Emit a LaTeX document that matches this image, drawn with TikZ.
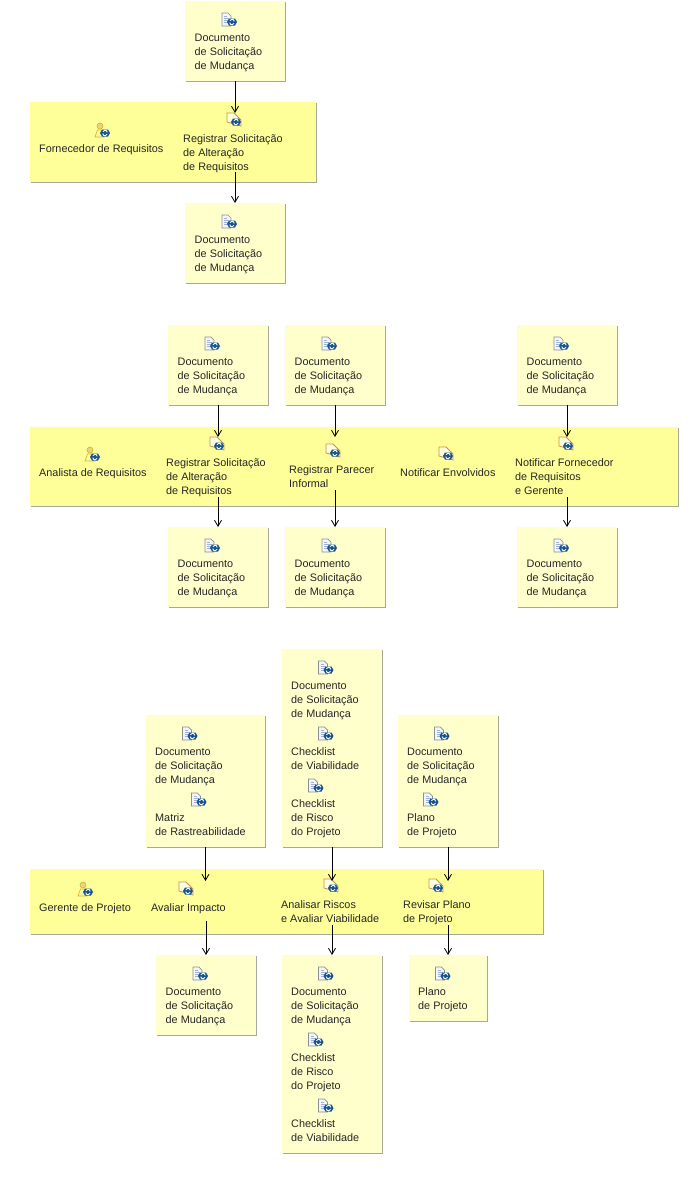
\documentclass[tikz,border=0pt]{standalone}
\usepackage{fontspec}
\usepackage{xcolor}
\setmainfont{Liberation Sans}
\usetikzlibrary{arrows.meta}

\definecolor{docyellow}{HTML}{FFFFCC}
\definecolor{laneyellow}{HTML}{FFFF99}
\definecolor{boxshade}{HTML}{A8A89A}
\definecolor{syncblue}{HTML}{16548E}
\definecolor{taskedge}{HTML}{C89050}
\definecolor{pageedge}{HTML}{8A8F98}
\definecolor{pageline}{HTML}{9DB4D8}

\tikzset{
  docbox/.style={anchor=north west, inner sep=0pt, outer sep=0pt, fill=docyellow,
    preaction={fill=boxshade, transform canvas={shift={(1pt,-1pt)}}}},
  lanebox/.style={docbox, fill=laneyellow},
  lbl/.style={anchor=west, inner sep=0pt, yshift=-1.6pt, align=left, text=black!85,
    font=\fontsize{10.85}{14}\selectfont},
  flow/.style={->, >={Straight Barb[length=6pt,width=7pt]}, black, line width=0.8pt},
  syncmark/.pic={
    \fill[syncblue] (-5,0) -- (-3,-3.5) -- (3,-3.5) -- (5,0) -- (3,3.5) -- (-3,3.5) -- cycle;
    \draw[white, line width=0.9pt] (-2.2,0.6) arc (180:20:2.2);
    \draw[white, line width=0.9pt] (2.2,-0.6) arc (0:-160:2.2);
  },
  docicon/.pic={
    \draw[pageedge, fill=gray!8, line width=0.7pt] (-8,-6) -- (-2,-6) -- (1,-3) -- (1,7) -- (-8,7) -- cycle;
    \draw[pageline, line width=0.6pt] (-6,-3) -- (-3,-3) (-6,-1) -- (-1,-1) (-6,1) -- (-2,1) (-6,3) -- (-3,3);
    \pic at (2,3) {syncmark};
  },
  taskicon/.pic={
    \draw[taskedge, fill=docyellow!60!white, line width=0.8pt] (-8,-7) -- (-1,-7) -- (6,0) -- (6,6) -- (-8,2) -- cycle;
    \pic at (1,2) {syncmark};
  },
  roleicon/.pic={
    \draw[brown!60!yellow, fill=yellow!40!brown!60, line width=0.6pt] (-2,-4) circle (3);
    \draw[brown!60!yellow, fill=yellow!35!white, line width=0.6pt] (-7,7) -- (-4.5,0) -- (0,0) -- (2,7) -- cycle;
    \pic at (3,3) {syncmark};
  },
}

\newcommand{\docname}{Documento\\de Solicitação\\de Mudança}

\begin{document}
\begin{tikzpicture}[x=1pt, y=-1pt]
  \useasboundingbox (0,0) rectangle (699,1195);

  % swimlanes
  \node[lanebox, minimum width=286, minimum height=80] (laneA) at (30,102) {};
  \node[lanebox, minimum width=648, minimum height=79] (laneB) at (30,427) {};
  \node[lanebox, minimum width=513, minimum height=65] (laneC) at (30,869) {};

  % single document boxes
  \foreach \nm/\x/\y in {docA/185/1, docB/185/203,
      docC/168/325, docD/285/325, docE/517/325,
      docF/168/527, docG/285/527, docH/517/527,
      docI/156/955} {
    \node[docbox, minimum width=100, minimum height=80] (\nm) at (\x,\y) {};
    \pic at (\x+45,\y+18) {docicon};
    \node[lbl] (\nm text) at (\x+9.5,\y+50) {\docname};
  }

  % boxes with several documents
  \node[docbox, minimum width=119, minimum height=132] (docJ) at (146,715) {};
  \pic at (190.5,733) {docicon};
  \node[lbl] (docJ one) at (155,765) {\docname};
  \pic at (199.5,799) {docicon};
  \node[lbl] (docJ two) at (155,823) {Matriz\\de Rastreabilidade};

  \node[docbox, minimum width=100, minimum height=198] (docK) at (282,649) {};
  \pic at (326.5,667) {docicon};
  \node[lbl] (docK one) at (291,699) {\docname};
  \pic at (326.5,733) {docicon};
  \node[lbl] (docK two) at (291,757) {Checklist\\de Viabilidade};
  \pic at (316.5,785) {docicon};
  \node[lbl] (docK three) at (291,817) {Checklist\\de Risco\\do Projeto};

  \node[docbox, minimum width=100, minimum height=132] (docL) at (398,715) {};
  \pic at (442.5,733) {docicon};
  \node[lbl] (docL one) at (407,765) {\docname};
  \pic at (431.5,799) {docicon};
  \node[lbl] (docL two) at (407,824) {Plano\\de Projeto};

  \node[docbox, minimum width=100, minimum height=198] (docM) at (282,955) {};
  \pic at (326.5,973) {docicon};
  \node[lbl] (docM one) at (291,1005) {\docname};
  \pic at (316.5,1039) {docicon};
  \node[lbl] (docM two) at (291,1071) {Checklist\\de Risco\\do Projeto};
  \pic at (326.5,1105) {docicon};
  \node[lbl] (docM three) at (291,1129) {Checklist\\de Viabilidade};

  \node[docbox, minimum width=78, minimum height=66] (docN) at (409,955) {};
  \pic at (443.5,973) {docicon};
  \node[lbl] (docN one) at (418,998) {Plano\\de Projeto};

  % roles
  \pic at (102,130) {roleicon};
  \node[lbl] (roleA) at (39,148) {Fornecedor de Requisitos};
  \pic at (92,454) {roleicon};
  \node[lbl] (roleB) at (39,472) {Analista de Requisitos};
  \pic at (85,889) {roleicon};
  \node[lbl] (roleC) at (39,907) {Gerente de Projeto};

  % tasks
  \pic at (235,120) {taskicon};
  \node[lbl] (taskA) at (183,152) {Registrar Solicitação\\de Alteração\\de Requisitos};
  \pic at (218,444) {taskicon};
  \node[lbl] (taskB) at (166,476) {Registrar Solicitação\\de Alteração\\de Requisitos};
  \pic at (334,451) {taskicon};
  \node[lbl] (taskC) at (289,475) {Registrar Parecer\\Informal};
  \pic at (447,454) {taskicon};
  \node[lbl] (taskD) at (400,471) {Notificar Envolvidos};
  \pic at (567,444) {taskicon};
  \node[lbl] (taskE) at (515,475) {Notificar Fornecedor\\de Requisitos\\e Gerente};
  \pic at (187,889) {taskicon};
  \node[lbl] (taskF) at (151,907) {Avaliar Impacto};
  \pic at (332,886) {taskicon};
  \node[lbl] (taskG) at (281,910) {Analisar Riscos\\e Avaliar Viabilidade};
  \pic at (437,886) {taskicon};
  \node[lbl] (taskH) at (403,911) {Revisar Plano\\de Projeto};

  % free ends of the connectors on the lanes
  \foreach \nm/\x/\y in {inA/235/113, outA/235/172,
      inB/218/437, outB/218/497, inC/335/437, outC/335/490, inE/567/437, outE/567/497,
      inF/205.5/881, outF/206/921, inG/332/881, outG/332/925, inH/448/881, outH/448/925} {
    \coordinate (\nm) at (\x,\y);
  }

  % connectors
  \foreach \from/\to in {docA.south/inA, outA/docB.north,
      docC.south/inB, outB/docF.north, docD.south/inC, outC/docG.north,
      docE.south/inE, outE/docH.north,
      docJ.south/inF, outF/docI.north, docK.south/inG, outG/docM.north,
      docL.south/inH, outH/docN.north} {
    \draw[flow] (\from) -- (\to);
  }
\end{tikzpicture}
\end{document}
